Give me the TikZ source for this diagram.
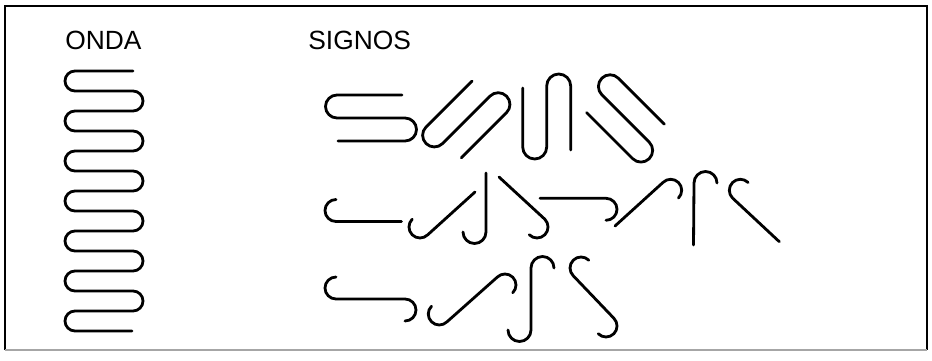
\documentclass[tikz,border=0pt]{standalone}
\usepackage{fontspec}
\setmainfont{Liberation Sans}
\usetikzlibrary{positioning}

\tikzset{
  trazo/.style={line width=1.6pt, line cap=round, line join=round},
  rotulo/.style={font=\fontsize{15}{18}\selectfont, anchor=west, inner sep=0pt}
}

\begin{document}
\begin{tikzpicture}[x=0.02cm, y=0.02cm]
  \useasboundingbox (0,0) rectangle (932,360);
  % marco
  \draw[line width=1.1pt] (5,10) -- (5,354) -- (927,354) -- (927,10);
  \draw[line width=1.1pt, black!35] (5,10) -- (927,10);

  \node[rotulo] (onda) at (65,320) {ONDA};
  \node[rotulo] (signos) at (308,320) {SIGNOS};

  % onda
  \draw[trazo] (133,289) \foreach \k in {1,...,6} {
      -- ++(-58,0) arc[start angle=90, end angle=270, radius=10]
      -- ++(58,0) arc[start angle=90, end angle=-90, radius=10]}
    -- ++(-58,0) arc[start angle=90, end angle=270, radius=10] -- ++(57,0);

  % signos, fila 1
  \draw[trazo] (402,265) -- ++(-65,0) arc[start angle=90, end angle=270, radius=11.5]
    -- ++(68,0) arc[start angle=90, end angle=-90, radius=11.5] -- ++(-67,0);
  \draw[trazo, shift={(472,279)}, rotate=45] (0,0) -- ++(-65,0)
    arc[start angle=90, end angle=270, radius=11.7] -- ++(67,0)
    arc[start angle=90, end angle=-90, radius=11.7] -- ++(-64,0);
  \draw[trazo, shift={(522.7,272)}, rotate=90] (0,0) -- ++(-59,0)
    arc[start angle=90, end angle=270, radius=12] -- ++(61,0)
    arc[start angle=90, end angle=-90, radius=12] -- ++(-64,0);
  \draw[trazo, shift={(586.7,247.3)}, rotate=135] (0,0) -- ++(-65,0)
    arc[start angle=90, end angle=270, radius=11.7] -- ++(67,0)
    arc[start angle=90, end angle=-90, radius=11.7] -- ++(-65,0);

  % signos, fila 2
  \draw[trazo] (336,160.5) arc[start angle=90, end angle=270, radius=11] -- (401.5,138.5);
  \draw[trazo] (412.2,140.8) arc[start angle=135, end angle=315, radius=11] -- (475,168);
  \draw[trazo] (486,187) -- (486,128) arc[start angle=0, end angle=-180, radius=11.5];
  \draw[trazo] (499,183) -- (544.8,140.8) arc[start angle=45, end angle=-135, radius=11];
  \draw[trazo] (540,161.7) -- (606,161.7) arc[start angle=90, end angle=-90, radius=11];
  \draw[trazo] (615,134) -- (662.9,177.5) arc[start angle=135, end angle=-45, radius=11];
  \draw[trazo] (693.5,115) -- (694,177) arc[start angle=180, end angle=0, radius=11.5];
  \draw[trazo] (748.1,177.5) arc[start angle=45, end angle=225, radius=11] -- (779.3,118.3);

  % signos, fila 3
  \draw[trazo] (336,83) arc[start angle=90, end angle=270, radius=11] -- (405,61)
    arc[start angle=90, end angle=-90, radius=11];
  \draw[trazo] (431.5,53.8) arc[start angle=135, end angle=315, radius=11] -- (497.2,82.8)
    arc[start angle=135, end angle=-45, radius=11];
  \draw[trazo] (554,92) arc[start angle=0, end angle=180, radius=11.5] -- (531,30)
    arc[start angle=0, end angle=-180, radius=11.5];
  \draw[trazo] (588.8,99.8) arc[start angle=45, end angle=225, radius=11] -- (613.8,41.8)
    arc[start angle=45, end angle=-135, radius=11];
\end{tikzpicture}
\end{document}
